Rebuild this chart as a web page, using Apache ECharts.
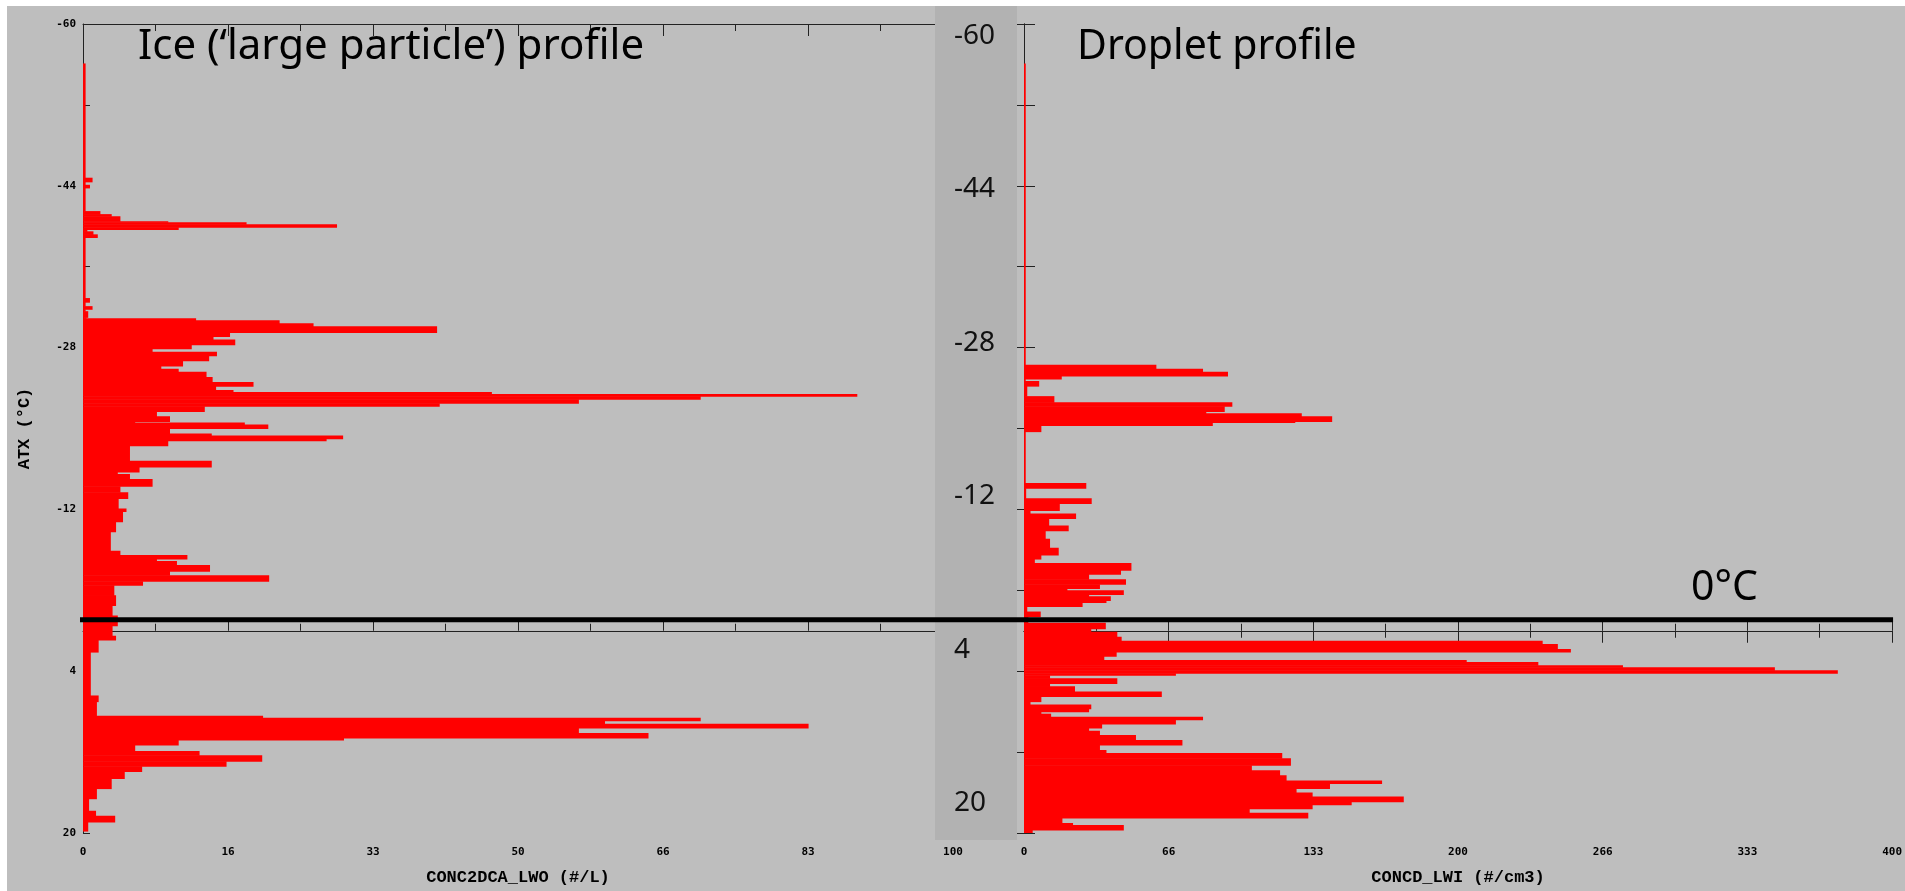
<!DOCTYPE html>
<html>
<head>
<meta charset="utf-8">
<title>Ice and droplet profiles</title>
<script src="https://cdn.jsdelivr.net/npm/echarts@6/dist/echarts.min.js"></script>
<style>
  html, body { margin: 0; padding: 0; background: #fff; }
  #main { width: 1905px; height: 891px; }
</style>
</head>
<body>
<div id="main"></div>
<script>
// temperature axis (ATX, degC), drawn inverted
const tempTicks = ['-60', '-44', '-28', '-12', '4', '20'];
const iceTickLabels = ['0', '16', '33', '50', '66', '83', '100'];
const dropTickLabels = ['0', '66', '133', '200', '266', '333', '400'];

// ice ('large particle') profile: segment start temperature -> concentration (#/L)
const iceTemp = [
  -56.1, -44.8, -44.4, -44.1, -43.8, -41.5, -41.2, -41.0, -40.5, -40.4,
  -40.2, -39.9, -39.7, -39.5, -39.2, -38.9, -32.9, -32.5, -32.1, -31.8,
  -31.6, -31.0, -30.9, -30.7, -30.4, -30.1, -29.5, -29.1, -28.8, -28.3,
  -27.9, -27.6, -27.2, -26.7, -26.2, -25.9, -25.6, -25.1, -24.6, -24.2,
  -23.8, -23.6, -23.4, -23.2, -22.9, -22.5, -22.2, -21.7, -21.2, -20.7,
  -20.6, -20.4, -20.0, -19.5, -19.3, -19.0, -18.8, -18.3, -16.8, -16.2,
  -15.7, -15.5, -15.0, -14.3, -13.7, -13.1, -12.1, -11.8, -10.8, -9.8,
  -7.9, -7.5, -7.1, -6.9, -6.5, -5.9, -5.5, -4.9, -4.5, -3.5,
  -2.5, -1.5, -0.5, 0.5, 0.9, 2.1, 6.4, 7.0, 8.4, 8.6,
  8.9, 9.2, 9.6, 10.1, 10.6, 10.8, 11.3, 11.9, 12.3, 12.9,
  13.4, 13.9, 14.6, 15.6, 16.6, 17.8, 18.3, 18.9
];
const iceConc = [
  0.3, 1.1, 0.3, 0.8, 0.3, 2.0, 3.3, 4.3, 9.8, 18.8,
  29.2, 11.0, 0.5, 1.2, 1.7, 0.3, 0.8, 0.3, 1.1, 0.3,
  0.6, 0.4, 13.0, 22.6, 26.5, 40.7, 16.9, 15.0, 17.5, 12.5,
  8.0, 15.4, 14.5, 11.5, 9.0, 11.0, 14.2, 14.9, 19.6, 15.3,
  17.3, 47.0, 89.0, 71.0, 57.0, 41.0, 14.0, 8.5, 10.0, 6.0,
  18.6, 21.3, 10.0, 14.8, 29.9, 28.0, 9.8, 5.4, 14.8, 6.5,
  4.0, 5.4, 8.0, 4.3, 5.2, 4.1, 5.0, 4.6, 3.8, 3.2,
  4.3, 12.0, 8.5, 10.8, 14.6, 10.0, 21.4, 6.9, 3.6, 3.8,
  3.4, 4.0, 3.4, 3.8, 1.8, 0.9, 1.8, 1.6, 20.7, 71.0,
  60.0, 83.4, 57.0, 65.0, 30.0, 11.0, 6.0, 13.4, 20.6, 16.5,
  6.8, 4.8, 3.3, 1.6, 0.7, 1.5, 3.7, 0.6
];
const iceBottom = 19.8;

// droplet profile: segment start temperature -> concentration (#/cm3)
const dropTemp = [
  -56.1, -26.3, -25.9, -25.6, -25.2, -24.9, -24.7, -24.2, -23.2, -22.6,
  -22.2, -21.7, -21.5, -21.2, -20.7, -20.6, -20.3, -19.7, -14.6, -14.1,
  -13.1, -12.6, -11.9, -11.6, -11.1, -10.4, -9.9, -9.1, -8.2, -7.5,
  -7.1, -6.7, -6.0, -5.6, -5.1, -4.6, -4.2, -4.0, -3.6, -3.4,
  -3.0, -2.8, -2.4, -1.9, -1.4, -0.8, -0.2, 0.1, 0.6, 1.0,
  1.3, 1.8, 2.1, 2.5, 2.9, 3.1, 3.4, 3.6, 3.9, 4.2,
  4.4, 4.7, 5.2, 5.5, 6.0, 6.5, 7.0, 7.3, 7.7, 8.0,
  8.2, 8.5, 8.8, 9.2, 9.6, 9.9, 10.3, 10.8, 11.3, 11.8,
  12.1, 12.6, 13.3, 13.8, 14.3, 14.8, 15.1, 15.6, 16.0, 16.4,
  16.9, 17.2, 17.6, 18.0, 18.5, 19.0, 19.2, 19.7
];
const dropConc = [
  0.8, 61, 82.5, 94, 17.4, 0.8, 7, 1.5, 14, 96,
  92.5, 84, 128, 142, 125, 87, 8, 0.8, 28.7, 1,
  31.2, 16.5, 3, 24, 11.6, 20.6, 10, 12, 16, 8,
  5, 49.5, 44.7, 30, 47, 35, 20, 46, 30, 40,
  38, 27, 1.5, 7.7, 2, 37.7, 31, 43, 45, 239,
  246, 252, 42.7, 37, 204, 237, 276, 346, 375, 70,
  12, 43, 12, 23.5, 63.5, 8, 3, 31, 30, 8,
  12.5, 82.5, 70, 36, 30, 35, 51.6, 73, 35, 38,
  119, 123, 105, 118, 121, 165, 141, 125.6, 133, 175,
  151, 133, 104, 131, 17.7, 22.6, 46, 4
];
const dropBottom = 20;

// hand-drawn freezing level line, as placed in the picture
const freezingLineTemp = -1.1;

const monoLabel = { fontFamily: 'DejaVu Sans Mono', fontWeight: 'bold', fontSize: 11, color: '#000' };
const monoName = { fontFamily: 'Liberation Mono', fontWeight: 'bold', fontSize: 17, color: '#000' };
const bigText = 'Noto Sans';

function toSegments(temps, values, bottom) {
  return temps.map(function (t, i) {
    const next = i < temps.length - 1 ? temps[i + 1] : bottom;
    return [values[i], t, next];
  });
}

function renderProfile(params, api) {
  const p0 = api.coord([0, api.value(1)]);
  const p1 = api.coord([api.value(0), api.value(2)]);
  return {
    type: 'rect',
    shape: { x: p0[0], y: p0[1], width: p1[0] - p0[0], height: p1[1] - p0[1] + 0.6 },
    style: { fill: '#ff0000' }
  };
}

function xAxisPair(gridIndex, max, labels, name) {
  const step = max / 6;
  const base = {
    gridIndex: gridIndex,
    type: 'value',
    min: 0,
    max: max,
    interval: step,
    splitLine: { show: false },
    axisLine: { lineStyle: { color: '#222', width: 1 } },
    axisTick: { inside: true, length: 12, lineStyle: { color: '#222' } },
    minorTick: { show: true, splitNumber: 2, length: 7, lineStyle: { color: '#222' } },
    minorSplitLine: { show: false }
  };
  return [
    Object.assign({}, base, {
      position: 'bottom',
      name: name,
      nameLocation: 'middle',
      nameGap: 36,
      nameTextStyle: monoName,
      axisLabel: Object.assign({
        margin: 14,
        formatter: function (v) { return labels[Math.round(v / step)]; }
      }, monoLabel)
    }),
    Object.assign({}, base, {
      position: 'top',
      axisLabel: { show: false }
    })
  ];
}

function tempAxis(gridIndex, position, tickLen, showLabel, name) {
  return {
    gridIndex: gridIndex,
    type: 'value',
    position: position,
    inverse: true,
    min: -60,
    max: 20,
    interval: 16,
    splitLine: { show: false },
    axisLine: { lineStyle: { color: '#222', width: 1 } },
    axisTick: { inside: true, length: tickLen, lineStyle: { color: '#222' } },
    minorTick: { show: true, splitNumber: 2, length: tickLen, lineStyle: { color: '#222' } },
    axisLabel: showLabel ? Object.assign({ margin: 7 }, monoLabel) : { show: false },
    name: name || '',
    nameLocation: 'middle',
    nameRotate: 90,
    nameGap: 50,
    nameTextStyle: monoName
  };
}

const chart = echarts.init(document.getElementById('main'));

const xLeft = xAxisPair(0, 100, iceTickLabels, 'CONC2DCA_LWO (#/L)');
const xRight = xAxisPair(1, 400, dropTickLabels, 'CONCD_LWI (#/cm3)');

const stripLabels = tempTicks.map(function (t, i) {
  return {
    id: 'strip' + i,
    type: 'text',
    z: 12,
    x: 954,
    y: 36 + i * 153.4,
    style: { text: t, font: '28px "' + bigText + '"', fill: '#111', verticalAlign: 'middle', align: 'left' }
  };
});

chart.setOption({
  animation: false,
  backgroundColor: '#bebebe',
  grid: [
    { left: 83, top: 24, width: 870, height: 811 },
    { left: 1024, top: 24, width: 869, height: 811 }
  ],
  xAxis: [xLeft[0], xLeft[1], xRight[0], xRight[1]],
  yAxis: [
    tempAxis(0, 'left', 7, true, 'ATX (°C)'),
    tempAxis(1, 'left', 11, false),
    tempAxis(1, 'right', 11, false)
  ],
  series: [
    {
      name: 'Ice',
      type: 'custom',
      xAxisIndex: 0,
      yAxisIndex: 0,
      clip: true,
      encode: { x: 0, y: [1, 2] },
      renderItem: renderProfile,
      data: toSegments(iceTemp, iceConc, iceBottom)
    },
    {
      name: 'Droplet',
      type: 'custom',
      xAxisIndex: 2,
      yAxisIndex: 1,
      clip: true,
      encode: { x: 0, y: [1, 2] },
      renderItem: renderProfile,
      data: toSegments(dropTemp, dropConc, dropBottom)
    }
  ],
  graphic: [
    { id: 'topWhite', type: 'rect', z: 5, shape: { x: 0, y: 0, width: 1905, height: 6 }, style: { fill: '#fff' } },
    { id: 'leftWhite', type: 'rect', z: 5, shape: { x: 0, y: 0, width: 7, height: 891 }, style: { fill: '#fff' } },
    { id: 'strip', type: 'rect', z: 6, shape: { x: 935, y: 6, width: 82, height: 834 }, style: { fill: '#b2b2b2' } },
    {
      id: 'iceTitle', type: 'text', z: 10, x: 138, y: 47,
      style: { text: 'Ice (‘large particle’) profile', font: '42px "' + bigText + '"', fill: '#000', verticalAlign: 'middle' }
    },
    {
      id: 'dropTitle', type: 'text', z: 10, x: 1077, y: 47,
      style: { text: 'Droplet profile', font: '41px "' + bigText + '"', fill: '#000', verticalAlign: 'middle' }
    },
    {
      id: 'zeroText', type: 'text', z: 10, x: 1691, y: 588,
      style: { text: '0°C', font: '41px "' + bigText + '"', fill: '#000', verticalAlign: 'middle' }
    }
  ].concat(stripLabels)
});

// freezing line across both panels, placed through the axes
const lineY = chart.convertToPixel({ yAxisIndex: 0 }, freezingLineTemp);
const lineX0 = chart.convertToPixel({ xAxisIndex: 0 }, 0);
const lineX1 = chart.convertToPixel({ xAxisIndex: 2 }, 400);
chart.setOption({
  graphic: [{
    id: 'freezeLine', type: 'line', z: 20,
    shape: { x1: lineX0 - 3, y1: lineY, x2: lineX1 + 1, y2: lineY },
    style: { stroke: '#000', lineWidth: 5 }
  }]
});
</script>
</body>
</html>
